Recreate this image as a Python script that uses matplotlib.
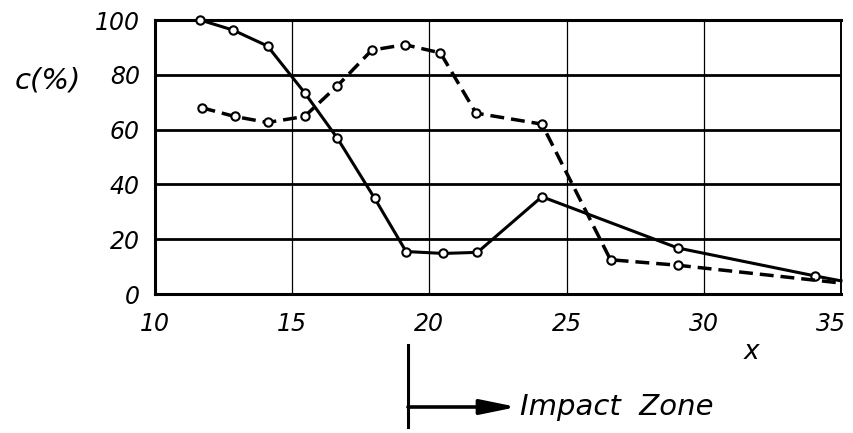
import matplotlib
matplotlib.use("Agg")
import matplotlib.pyplot as plt
import matplotlib.transforms as mtransforms
from matplotlib.lines import Line2D

# concentration profiles along x
solid_x = [11.65, 12.85, 14.1, 15.45, 16.65, 18.0, 19.15, 20.5, 21.75, 24.1, 29.05, 34.05, 35.0]
solid_y = [100, 96.3, 90.5, 73.5, 56.8, 35.0, 15.5, 14.8, 15.2, 35.5, 16.8, 6.6, 4.8]
dashed_x = [11.7, 12.9, 14.1, 15.45, 16.65, 17.9, 19.1, 20.4, 21.7, 24.1, 26.6, 29.05, 35.0]
dashed_y = [68.0, 64.8, 62.6, 64.8, 76.0, 89.0, 91.0, 88.0, 66.0, 62.0, 12.5, 10.5, 4.0]
x_ticks = [10, 15, 20, 25, 30, 35]
y_ticks = [0, 20, 40, 60, 80, 100]

font = dict(family="DejaVu Sans", style="oblique", size=17)

fig = plt.figure(figsize=(8.54, 4.33), dpi=100)
ax = fig.add_axes([155 / 854, 1 - 294 / 433, 686 / 854, 274 / 433])

# grid: heavy horizontals, thin verticals
for y in y_ticks[1:-1]:
    ax.axhline(y, color="black", lw=2.0, zorder=1)
for x in x_ticks[1:-1]:
    ax.axvline(x, color="black", lw=0.9, zorder=1)

mk = dict(marker="o", markersize=6, markerfacecolor="white",
          markeredgecolor="black", markeredgewidth=1.5)
n = len(solid_x)
ax.plot(solid_x, solid_y, color="black", lw=2.2, markevery=list(range(n - 1)),
        zorder=3, clip_on=False, **mk)
ax.plot(dashed_x, dashed_y, color="black", lw=2.5, dashes=(4, 2),
        markevery=list(range(len(dashed_x) - 1)), zorder=3, clip_on=False, **mk)

ax.set_xlim(10, 35)
ax.set_ylim(0, 100)
ax.set_xticks(x_ticks)
ax.set_yticks(y_ticks)
ax.tick_params(axis="x", length=0, pad=13)
ax.tick_params(axis="y", length=0, pad=11)
ax.set_xticklabels([str(t) for t in x_ticks], **font)
ax.set_yticklabels([str(t) for t in y_ticks], **font)
# pull the last x label in so it stays on the canvas
last = ax.get_xticklabels()[-1]
last.set_transform(last.get_transform() +
                   mtransforms.ScaledTranslation(-10 / 100, 0, fig.dpi_scale_trans))
for side in ["top", "bottom", "left"]:
    ax.spines[side].set_linewidth(2.2)
ax.spines["right"].set_linewidth(1.4)

fig.text(48 / 854, 1 - 80 / 433, "c(%)", ha="center", va="center",
         family="DejaVu Sans", style="oblique", size=21)
fig.text(752 / 854, 1 - 352 / 433, "x", ha="center", va="center",
         family="DejaVu Sans", style="oblique", size=19)

# impact zone marker below the axis
fig.add_artist(Line2D([408 / 854, 408 / 854], [1 - 345 / 433, 1 - 427 / 433],
                      color="black", lw=2.2, transform=fig.transFigure))
ax.annotate("", xy=(517, 433 - 407), xycoords="figure pixels",
            xytext=(408, 433 - 407), textcoords="figure pixels",
            arrowprops=dict(arrowstyle="-|>,head_length=2.2,head_width=0.45",
                            color="black", lw=2.6, shrinkA=0, shrinkB=0))
fig.text(520 / 854, 1 - 407 / 433, "Impact  Zone", ha="left", va="center",
         family="DejaVu Sans", style="oblique", size=21)

fig.savefig("out.png", dpi=100)
